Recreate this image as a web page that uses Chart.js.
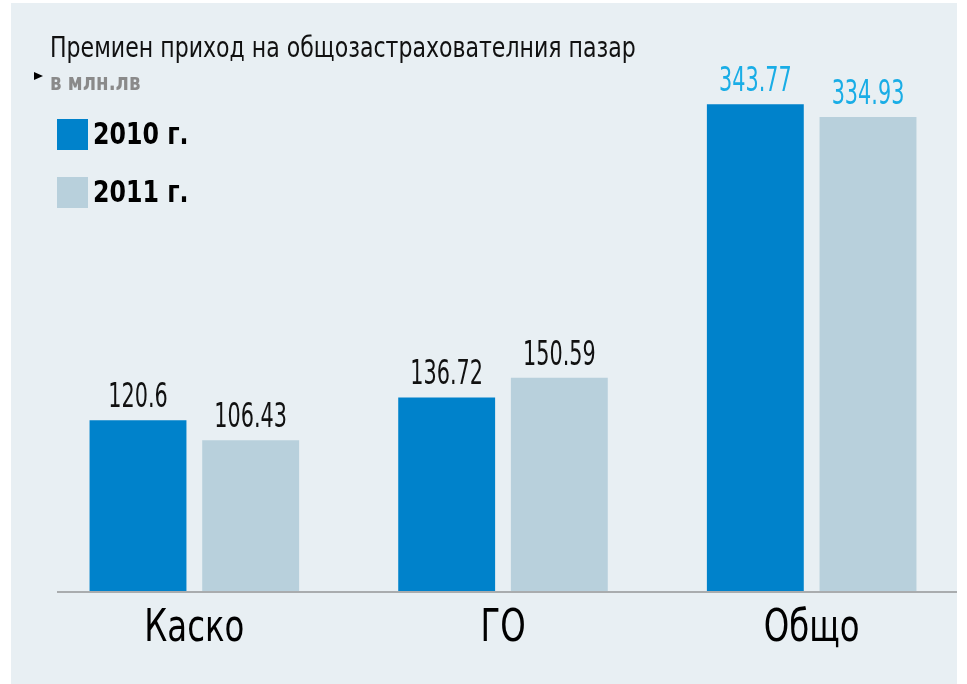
<!DOCTYPE html>
<html>
<head>
<meta charset="utf-8">
<script src="https://cdn.jsdelivr.net/npm/chart.js@4/dist/chart.umd.min.js"></script>
<style>
  body { margin: 0; background: #fff; }
  #wrap { position: relative; width: 967px; height: 684px; }
  #panel { position: absolute; left: 11px; top: 3px; width: 946px; height: 681px; background: #e8eff3; }
  #chart { position: absolute; left: 0; top: 0; }
  .narrow { font-family: "Liberation Sans Narrow", "DejaVu Sans Condensed", "Open Sans", sans-serif; font-stretch: condensed; transform-origin: 0 0; }
  #title { position: absolute; left: 50px; top: 31px; font-size: 28px; color: #111; white-space: nowrap; transform: scaleX(0.876); }
  #unit { position: absolute; left: 50px; top: 69px; font-size: 23px; font-weight: bold; color: #8a8a8a; white-space: nowrap; transform: scaleX(0.88); }
  #marker { position: absolute; left: 34px; top: 72px; width: 0; height: 0; border-left: 9px solid #000; border-top: 4px solid transparent; border-bottom: 4px solid transparent; }
  #legend { position: absolute; left: 57px; top: 119px; }
  .item { position: relative; height: 31px; margin-bottom: 27px; }
  .box { position: absolute; left: 0; top: 0; width: 31px; height: 31px; }
  .lbl { position: absolute; left: 36px; top: -4px; font-size: 31px; font-weight: bold; color: #000; white-space: nowrap; transform: scaleX(0.85); }
</style>
</head>
<body>
<div id="wrap">
  <div id="panel"></div>
  <canvas id="chart" width="967" height="684"></canvas>
  <div id="title" class="narrow">Премиен приход на общозастрахователния пазар</div>
  <div id="marker"></div>
  <div id="unit" class="narrow">в млн.лв</div>
  <div id="legend"></div>
</div>
<script>
// Datos
const categories = ['Каско', 'ГО', 'Общо'];
const seriesNames = ['2010 г.', '2011 г.'];
const values2010 = [120.6, 136.72, 343.77];
const values2011 = [106.43, 150.59, 334.93];

const colors = ['#0082cb', '#b8d0dc'];
const fontNarrow = '"Liberation Sans Narrow", "DejaVu Sans Condensed", "Open Sans", sans-serif';

// Leyenda en HTML
const legend = document.getElementById('legend');
seriesNames.forEach((name, i) => {
    const item = document.createElement('div');
    item.className = 'item';
    item.innerHTML = '<div class="box" style="background:' + colors[i] + '"></div><div class="lbl narrow">' + name + '</div>';
    legend.appendChild(item);
});

// Texto estrecho en el canvas
function textoEstrecho(ctx, text, x, y, squeeze) {
    ctx.save();
    ctx.translate(x, y);
    ctx.scale(squeeze, 1);
    ctx.fillText(text, 0, 0);
    ctx.restore();
}

// Etiquetas de valor encima de las barras
const valueLabels = {
    id: 'valueLabels',
    afterDatasetsDraw(chart) {
        const ctx = chart.ctx;
        ctx.save();
        ctx.font = '33px ' + fontNarrow;
        ctx.textAlign = 'center';
        ctx.textBaseline = 'alphabetic';
        chart.data.datasets.forEach((ds, di) => {
            chart.getDatasetMeta(di).data.forEach((bar, i) => {
                ctx.fillStyle = categories[i] === 'Общо' ? '#19ade6' : '#111';
                textoEstrecho(ctx, ds.data[i].toString(), bar.x, bar.y - 13, 0.7);
            });
        });
        ctx.restore();
    }
};

// Línea base y nombres de categoría
const baseLine = {
    id: 'baseLine',
    afterDatasetsDraw(chart) {
        const ctx = chart.ctx;
        const xs = chart.scales.x;
        const y = chart.scales.y.getPixelForValue(0) + 1;
        ctx.save();
        ctx.strokeStyle = '#a9acae';
        ctx.lineWidth = 2;
        ctx.beginPath();
        ctx.moveTo(57, y);
        ctx.lineTo(957, y);
        ctx.stroke();
        ctx.fillStyle = '#000';
        ctx.font = '45px ' + fontNarrow;
        ctx.textAlign = 'center';
        ctx.textBaseline = 'alphabetic';
        categories.forEach((c, i) => {
            textoEstrecho(ctx, c, xs.getPixelForValue(i), y + 49, 0.8);
        });
        ctx.restore();
    }
};

new Chart(document.getElementById('chart'), {
    type: 'bar',
    data: {
        labels: categories,
        datasets: [
            { label: seriesNames[0], data: values2010, backgroundColor: colors[0] },
            { label: seriesNames[1], data: values2011, backgroundColor: colors[1] }
        ]
    },
    options: {
        responsive: false,
        animation: false,
        categoryPercentage: 0.73,
        barPercentage: 0.86,
        layout: { padding: { left: 40, right: 1, top: 46, bottom: 93 } },
        plugins: { legend: { display: false }, tooltip: { enabled: false } },
        scales: {
            x: {
                grid: { display: false, drawTicks: false },
                border: { display: false },
                ticks: { display: false }
            },
            y: { display: false, min: 0, max: 385 }
        }
    },
    plugins: [valueLabels, baseLine]
});
</script>
</body>
</html>
